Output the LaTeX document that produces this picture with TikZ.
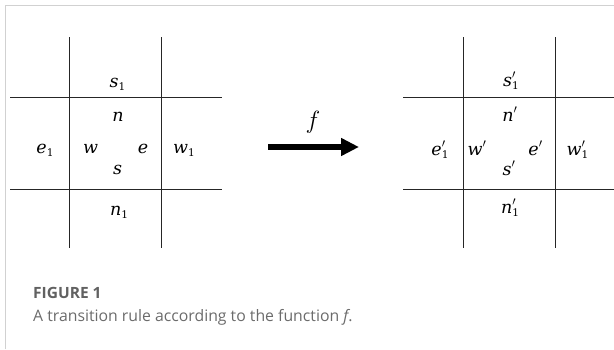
\documentclass[tikz,border=0pt]{standalone}
\usepackage{fontspec}
\setsansfont{Open Sans}
\newfontfamily\letterfont{DejaVu Serif}
\newcommand{\lt}[1]{{\letterfont\itshape #1}}
\newcommand{\sbone}{\raisebox{-3pt}{\letterfont\fontsize{10.5}{11}\selectfont 1}}
\newcommand{\prm}{\raisebox{1pt}{$'$}}
\newcommand{\prsb}{\rlap{\prm}\sbone}
\usetikzlibrary{arrows.meta}
\begin{document}
\begin{tikzpicture}[x=1pt,y=-1pt,
  grid/.style={line width=0.9pt,draw=black!85},
  lab/.style={inner sep=0pt,anchor=base,font=\fontsize{17.5}{20}\selectfont},
  frame/.style={draw=black!18,line width=1pt},
  captext/.style={inner sep=0pt,anchor=base west,text=black!58,font=\sffamily\fontsize{15.8}{18}\selectfont}]
\useasboundingbox (0,0) rectangle (614,349);
\draw[frame] (5.5,349) -- (5.5,5.5) -- (614,5.5);
% left grid
\draw[grid] (69,37) -- (69,248);
\draw[grid] (161,37) -- (161,248);
\draw[grid] (10,97) -- (222,97);
\draw[grid] (10,189) -- (222,189);
\node[lab] (s1) at (117.5,87) {\lt{s}\sbone};
\node[lab] (n) at (118,121) {\lt{n}};
\node[lab] (e1) at (45,153) {\lt{e}\sbone};
\node[lab] (w) at (90.5,153) {\lt{w}};
\node[lab] (e) at (143,153) {\lt{e}};
\node[lab] (w1) at (184,153) {\lt{w}\sbone};
\node[lab] (s) at (117.5,174) {\lt{s}};
\node[lab] (n1) at (119,215) {\lt{n}\sbone};
% arrow
\coordinate (a0) at (268,147);
\coordinate (a1) at (359,147);
\draw[line width=6pt,-{Triangle[length=18pt,width=17pt]}] (a0) -- (a1);
\node[lab,font=\fontsize{24}{26}\selectfont] (f) at (313,128) {$f$};
% right grid
\draw[grid] (463,37) -- (463,248);
\draw[grid] (555,37) -- (555,248);
\draw[grid] (403,97) -- (614,97);
\draw[grid] (403,189) -- (614,189);
\node[lab] (s1p) at (511,86) {\lt{s}\prsb};
\node[lab] (np) at (510,121) {\lt{n}\prm};
\node[lab] (e1p) at (440,155) {\lt{e}\prsb};
\node[lab] (wp) at (477,155) {\lt{w}\prm};
\node[lab] (ep) at (535.5,155) {\lt{e}\prm};
\node[lab] (w1p) at (577.5,155) {\lt{w}\prsb};
\node[lab] (sp) at (509,175) {\lt{s}\prm};
\node[lab] (n1p) at (510,213) {\lt{n}\prsb};
% caption
\node[captext,font=\sffamily\bfseries\fontsize{15.5}{18}\selectfont,text=black!62] (fig) at (33,298) {FIGURE 1};
\node[captext] (capt) at (33,321) {A transition rule according to the function \textit{f}.};
\end{tikzpicture}
\end{document}
